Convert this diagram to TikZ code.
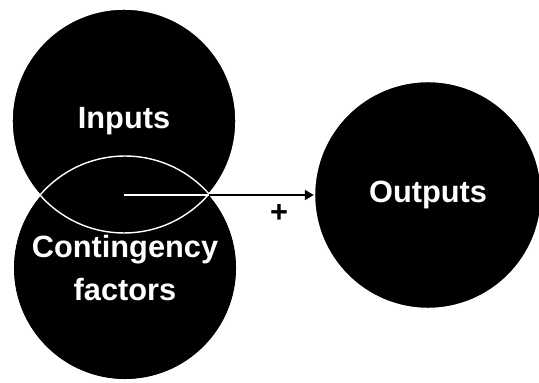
\documentclass[tikz,border=0pt]{standalone}
\usepackage{fontspec}
\setmainfont{Liberation Sans}
\usetikzlibrary{arrows.meta}

\tikzset{
  blob/.style={circle, fill=black, draw=white, line width=0.8pt, minimum size=4.48cm,
    inner sep=0pt, text=white, align=center, font=\bfseries\fontsize{17.5}{24.5}\selectfont},
  ring/.style={white, line width=0.8pt},
}

\begin{document}
\begin{tikzpicture}[x=0.02cm, y=-0.02cm]
	\useasboundingbox (0,0) rectangle (539,383);
	
	\node[blob] (factors) at (125,268) {Contingency\\factors};
	\node[blob] (inputs) at (124,121) {Inputs};
	\node[blob, minimum size=4.54cm] (outputs) at (428,195) {Outputs};
	
	% lower rim shows through the upper circle
	\draw[ring] (factors.center) circle (112);
	
	\coordinate (lens) at (124.5,195);
	\coordinate (cusp) at (209,195);
	\draw[white, line width=1pt] (lens) -- (cusp);
	\draw[line width=1pt, -{Triangle[length=0.18cm, width=0.2cm]}] (cusp) -- (outputs.west);
	\node[font=\bfseries\fontsize{17.5}{24.5}\selectfont] (plus) at (279,213) {+};
\end{tikzpicture}
\end{document}
